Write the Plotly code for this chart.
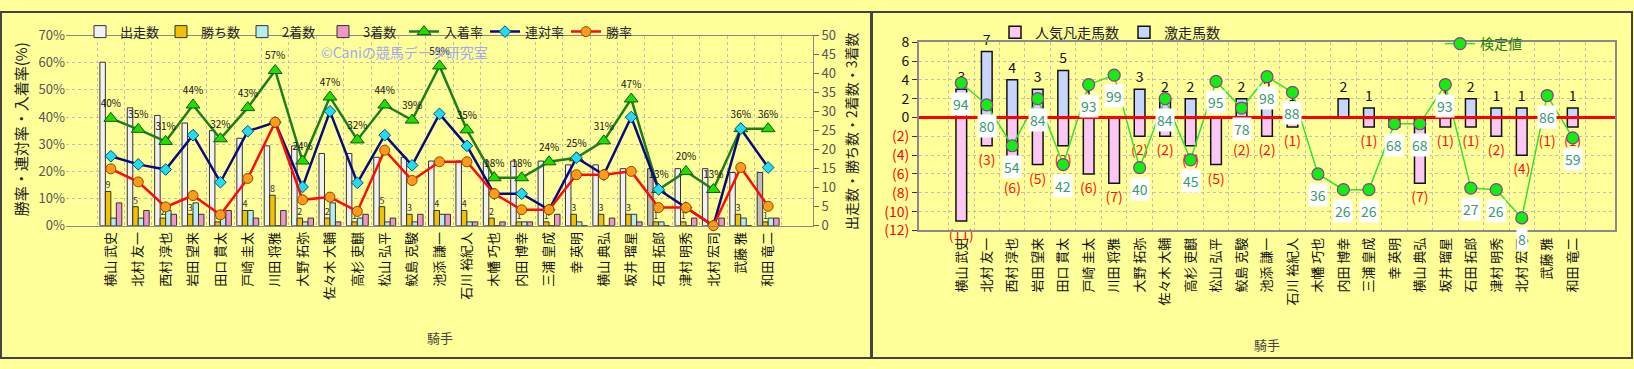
import plotly.graph_objects as go

# ---------------- data ----------------
jockeys = ["横山 武史", "北村 友一", "西村 淳也", "岩田 望来", "田口 貫太", "戸崎 圭太", "川田 将雅",
           "大野 拓弥", "佐々木 大輔", "高杉 吏麒", "松山 弘平", "鮫島 克駿", "池添 謙一", "石川 裕紀人",
           "木幡 巧也", "内田 博幸", "三浦 皇成", "幸 英明", "横山 典弘", "坂井 瑠星", "石田 拓郎",
           "津村 明秀", "北村 宏司", "武藤 雅", "和田 竜二"]
starts  = [43, 31, 29, 27, 25, 23, 21, 21, 19, 19, 18, 18, 17, 17, 17, 17, 17, 16, 16, 15, 15, 15, 15, 14, 14]
wins    = [9, 5, 2, 3, 1, 4, 8, 2, 2, 1, 5, 3, 4, 4, 2, 1, 1, 3, 3, 3, 1, 1, 0, 3, 1]
seconds = [2, 2, 4, 6, 3, 4, 0, 1, 6, 2, 1, 1, 3, 1, 0, 1, 0, 1, 0, 3, 1, 0, 0, 2, 2]
thirds  = [6, 4, 3, 3, 4, 2, 4, 2, 1, 3, 2, 3, 3, 1, 1, 1, 3, 0, 2, 1, 0, 2, 2, 0, 2]

gekisou = [3, 7, 4, 3, 5, 1, 0, 3, 2, 2, 0, 2, 2, 1, 0, 2, 1, 0, 0, 1, 2, 1, 1, 1, 1]   # 激走馬数
bonsou  = [11, 3, 6, 5, 3, 6, 7, 2, 2, 3, 5, 2, 2, 1, 0, 0, 1, 1, 7, 1, 1, 2, 4, 1, 1]  # 人気凡走馬数
kentei  = [94, 80, 54, 84, 42, 93, 99, 40, 84, 45, 95, 78, 98, 88, 36, 26, 26, 68, 68, 93, 27, 26, 8, 86, 59]

win_rate = [w / s for w, s in zip(wins, starts)]
rentai_rate = [(w + a) / s for w, a, s in zip(wins, seconds, starts)]
place_rate = [(w + a + b) / s for w, a, b, s in zip(wins, seconds, thirds, starts)]

# ---------------- geometry helpers ----------------
W, H = 1634, 369
def px(x):
    return x / W
def py(y):
    return 1 - y / H

FONT = "Noto Sans CJK JP, Noto Sans, sans-serif"
start_colors = ["#F2F2F2"] * len(jockeys)
start_colors[20] = "#BDBDBD"
start_colors[24] = "#BDBDBD"

fig = go.Figure()

# ---------------- left chart ----------------
bar_line = dict(color="#333333", width=1)
fig.add_trace(go.Bar(name="出走数", x=jockeys, y=starts, xaxis="x", yaxis="y",
                     marker=dict(color=start_colors, line=bar_line), legend="legend"))
fig.add_trace(go.Bar(name="勝ち数", x=jockeys, y=wins, xaxis="x", yaxis="y",
                     marker=dict(color="#F2C200", line=bar_line), legend="legend",
                     text=[str(v) if v else "" for v in wins], textposition="outside",
                     textfont=dict(size=9, color="#333333"), constraintext="none", cliponaxis=False))
fig.add_trace(go.Bar(name="2着数", x=jockeys, y=seconds, xaxis="x", yaxis="y",
                     marker=dict(color="#B4EEF2", line=bar_line), legend="legend"))
fig.add_trace(go.Bar(name="3着数", x=jockeys, y=thirds, xaxis="x", yaxis="y",
                     marker=dict(color="#F096C8", line=bar_line), legend="legend"))

fig.add_trace(go.Scatter(name="入着率", x=jockeys, y=place_rate, xaxis="x", yaxis="y2",
                         mode="lines+markers+text", legend="legend",
                         line=dict(color="#1E7E1E", width=2.5),
                         marker=dict(symbol="triangle-up", size=12, color="#22DD00",
                                     line=dict(color="#0A5A0A", width=1)),
                         text=[f"{round(v * 100)}%" for v in place_rate], textposition="top center",
                         textfont=dict(size=10, color="#111111", family="Arial Black, " + FONT),
                         cliponaxis=False))
fig.add_trace(go.Scatter(name="連対率", x=jockeys, y=rentai_rate, xaxis="x", yaxis="y2",
                         mode="lines+markers", legend="legend",
                         line=dict(color="#0A0A80", width=2.5),
                         marker=dict(symbol="diamond", size=9, color="#22DDF0",
                                     line=dict(color="#0A4A80", width=1))))
fig.add_trace(go.Scatter(name="勝率", x=jockeys, y=win_rate, xaxis="x", yaxis="y2",
                         mode="lines+markers", legend="legend",
                         line=dict(color="#FF0A0A", width=2.5),
                         marker=dict(symbol="circle", size=10, color="#FF9A1A",
                                     line=dict(color="#8A4A00", width=1)), cliponaxis=False))

# ---------------- right chart ----------------
fig.add_trace(go.Bar(name="人気凡走馬数", x=jockeys, y=[-v for v in bonsou], xaxis="x2", yaxis="y3",
                     width=0.42, offset=-0.21, legend="legend2",
                     marker=dict(color="#FBC8F4", line=dict(color="#111111", width=1.5)),
                     text=[f"({v})" if v else "" for v in bonsou], textposition="outside",
                     textfont=dict(size=14, color="#FF1010"), constraintext="none", cliponaxis=False))
fig.add_trace(go.Bar(name="激走馬数", x=jockeys, y=gekisou, xaxis="x2", yaxis="y3",
                     width=0.42, offset=-0.21, legend="legend2",
                     marker=dict(color="#C8D6FF", line=dict(color="#111111", width=1.5)),
                     text=[str(v) if v else "" for v in gekisou], textposition="outside",
                     textfont=dict(size=14, color="#111111"), constraintext="none", cliponaxis=False))
fig.add_trace(go.Scatter(name="検定値", x=jockeys, y=kentei, xaxis="x2", yaxis="y4",
                         mode="lines+markers", legend="legend3",
                         line=dict(color="#33E033", width=1.5),
                         marker=dict(size=12, color="#11EE11", line=dict(color="#993399", width=1.2)),
                         cliponaxis=False))

annotations = []
for j, v in zip(jockeys, kentei):
    annotations.append(dict(x=j, y=v, xref="x2", yref="y4", text=str(v), showarrow=False,
                            xanchor="center", yanchor="middle",
                            yshift=-21, bgcolor="#FFFFFF", borderpad=1,
                            font=dict(size=14, color="#3A9A70", family=FONT)))

def label(text, x, y, size=13, color="#222222", angle=0):
    return dict(text=text, x=px(x), y=py(y), xref="paper", yref="paper", textangle=angle,
                xanchor="center", yanchor="middle", showarrow=False,
                font=dict(size=size, color=color, family=FONT))

annotations += [
    label("勝率・連対率・入着率(%)", 20, 125, size=15, angle=-90),
    label("出走数・勝ち数・2着数・3着数", 851, 127, size=14, angle=-90),
    label("騎手", 440, 345, color="#444444"),
    label("騎手", 1267, 353, color="#444444"),
    label("©Caniの競馬データ研究室", 404, 43, size=14, color="#A2A8F2"),
]

shapes = [
    dict(type="rect", xref="paper", yref="paper", x0=px(1), x1=px(871), y0=py(367), y1=py(1),
         fillcolor="#FFFF99", line=dict(color="#444444", width=2), layer="below"),
    dict(type="rect", xref="paper", yref="paper", x0=px(872), x1=px(1632), y0=py(367), y1=py(1),
         fillcolor="#FFFF99", line=dict(color="#444444", width=2), layer="below"),
    dict(type="line", xref="x2 domain", yref="y3", x0=0, x1=1, y0=0, y1=0,
         line=dict(color="#FF0000", width=3), layer="above"),
]

neg_ticks = list(range(-12, 0, 2))
pos_ticks = list(range(0, 10, 2))
tickvals3 = neg_ticks + pos_ticks
ticktext3 = [f"<span style='color:#FF0000'>({-v})</span>" for v in neg_ticks] + [str(v) for v in pos_ticks]

grid = dict(showgrid=True, gridcolor="#C4BEB4", griddash="dot", gridwidth=1)

fig.update_layout(
    width=W, height=H, margin=dict(l=0, r=0, t=0, b=0),
    paper_bgcolor="#FFFF99", plot_bgcolor="#F7EDD6",
    font=dict(family=FONT, size=13, color="#222222"),
    barmode="group", bargap=0.2, bargroupgap=0,
    showlegend=True,
    xaxis=dict(domain=[px(66), px(813)], anchor="y", type="category", tickson="boundaries",
               tickangle=-90, ticks="", tickfont=dict(size=13, color="#111111"),
               showline=True, linecolor="#8A8A8A", linewidth=1, mirror=True, **grid),
    yaxis=dict(domain=[py(227), py(26)], anchor="x", side="right", range=[0, 50], dtick=5,
               ticks="outside", ticklen=5, tickcolor="#666666", showgrid=False, zeroline=False,
               tickfont=dict(size=13, color="#555555"),
               showline=True, linecolor="#8A8A8A", linewidth=1),
    yaxis2=dict(overlaying="y", anchor="x", side="left", range=[0, 0.7], dtick=0.1,
                tickformat=".0%", ticks="", zeroline=False,
                tickfont=dict(size=13, color="#555555"), **grid),
    xaxis2=dict(domain=[px(919), px(1615)], anchor="y3", type="category", tickson="boundaries",
                tickangle=-90, ticks="", tickfont=dict(size=13, color="#111111"),
                showline=True, linecolor="#8A8A8A", linewidth=2, mirror=True, **grid),
    yaxis3=dict(domain=[py(232), py(33)], anchor="x2", range=[-12, 8], tickvals=tickvals3,
                ticktext=ticktext3, ticks="outside", ticklen=5, tickcolor="#333333",
                zeroline=False, tickfont=dict(size=14, color="#111111"),
                showline=True, linecolor="#8A8A8A", linewidth=2, mirror=True, **grid),
    yaxis4=dict(overlaying="y3", anchor="x2", range=[0, 120], visible=False),
    legend=dict(orientation="h", x=px(80), y=py(6), xanchor="left", yanchor="top",
                bgcolor="rgba(0,0,0,0)", font=dict(size=13, color="#222222"),
                entrywidth=36, entrywidthmode="pixels", itemwidth=30, traceorder="normal"),
    legend2=dict(orientation="h", x=px(995), y=py(6), xanchor="left", yanchor="top",
                 bgcolor="rgba(0,0,0,0)", font=dict(size=14, color="#222222"), itemwidth=30),
    legend3=dict(orientation="h", x=px(1440), y=py(18), xanchor="left", yanchor="top",
                 bgcolor="rgba(0,0,0,0)", font=dict(size=14, color="#1A7A1A"), itemwidth=30),
    annotations=annotations, shapes=shapes,
)

fig.write_html("out.html", config={"displayModeBar": False},
               post_script="document.body.style.margin='0';document.body.style.overflow='hidden';")
